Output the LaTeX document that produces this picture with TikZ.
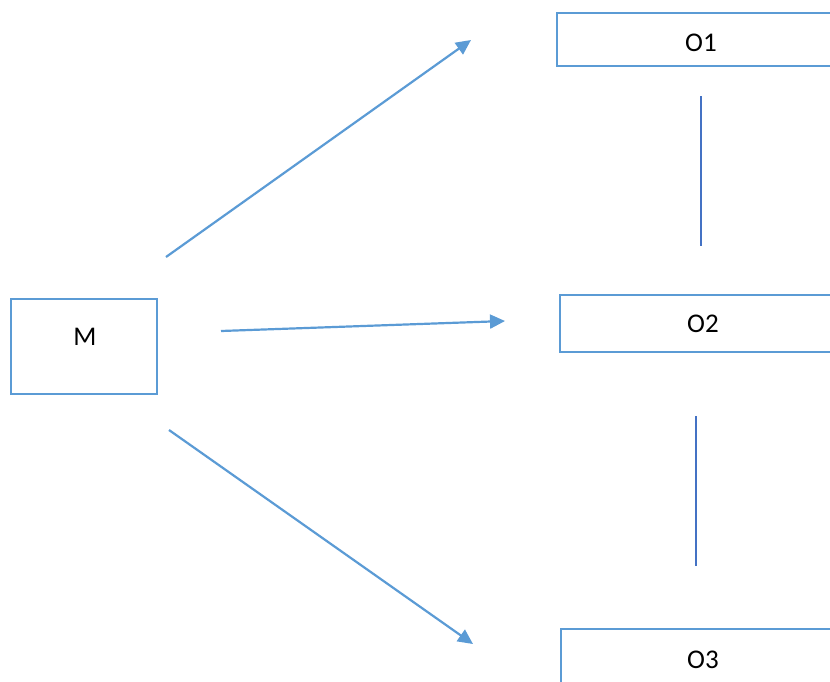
\documentclass[tikz,border=0pt]{standalone}
\usepackage{fontspec}
\setmainfont{Carlito}
\usetikzlibrary{arrows.meta}
\definecolor{wordblue}{HTML}{5B9BD5}
\definecolor{lineblue}{HTML}{4472C4}
\tikzset{
  box/.style={draw=wordblue, line width=2.2pt, rectangle, inner sep=0pt},
  lbl/.style={font=\fontsize{27}{31}\selectfont, inner sep=0pt, text=black},
  arr/.style={draw=wordblue, line width=2.2pt, -{Triangle[length=15pt,width=14pt]}},
  vline/.style={draw=lineblue, line width=1.2pt}
}
\begin{document}
\begin{tikzpicture}[x=1pt,y=-1pt]
\useasboundingbox (0,0) rectangle (830,681);
\clip (0,0) rectangle (830,681);
% boxes
\node[box, minimum width=146pt, minimum height=95pt] (Mbox) at (84,346.5) {};
\node[box, minimum width=300pt, minimum height=53pt] (O1box) at (707,39.5) {};
\node[box, minimum width=300pt, minimum height=57pt] (O2box) at (710,323.5) {};
\node[box, minimum width=300pt, minimum height=80pt] (O3box) at (711,669) {};
% labels
\node[lbl] (M) at (85,337) {M};
\node[lbl] (O1) at (701,43) {O1};
\node[lbl] (O2) at (703,324) {O2};
\node[lbl] (O3) at (703,660) {O3};
% arrow ends
\coordinate (a1s) at (166,257);
\coordinate (a1e) at (471,40);
\coordinate (a2s) at (221,331);
\coordinate (a2e) at (505,321);
\coordinate (a3s) at (169,430);
\coordinate (a3e) at (473,644);
\draw[arr] (a1s) -- (a1e);
\draw[arr] (a2s) -- (a2e);
\draw[arr] (a3s) -- (a3e);
% vertical lines
\coordinate (v1s) at (701,96);
\coordinate (v1e) at (701,246);
\coordinate (v2s) at (696,416);
\coordinate (v2e) at (696,566);
\draw[vline] (v1s) -- (v1e);
\draw[vline] (v2s) -- (v2e);
\end{tikzpicture}
\end{document}
